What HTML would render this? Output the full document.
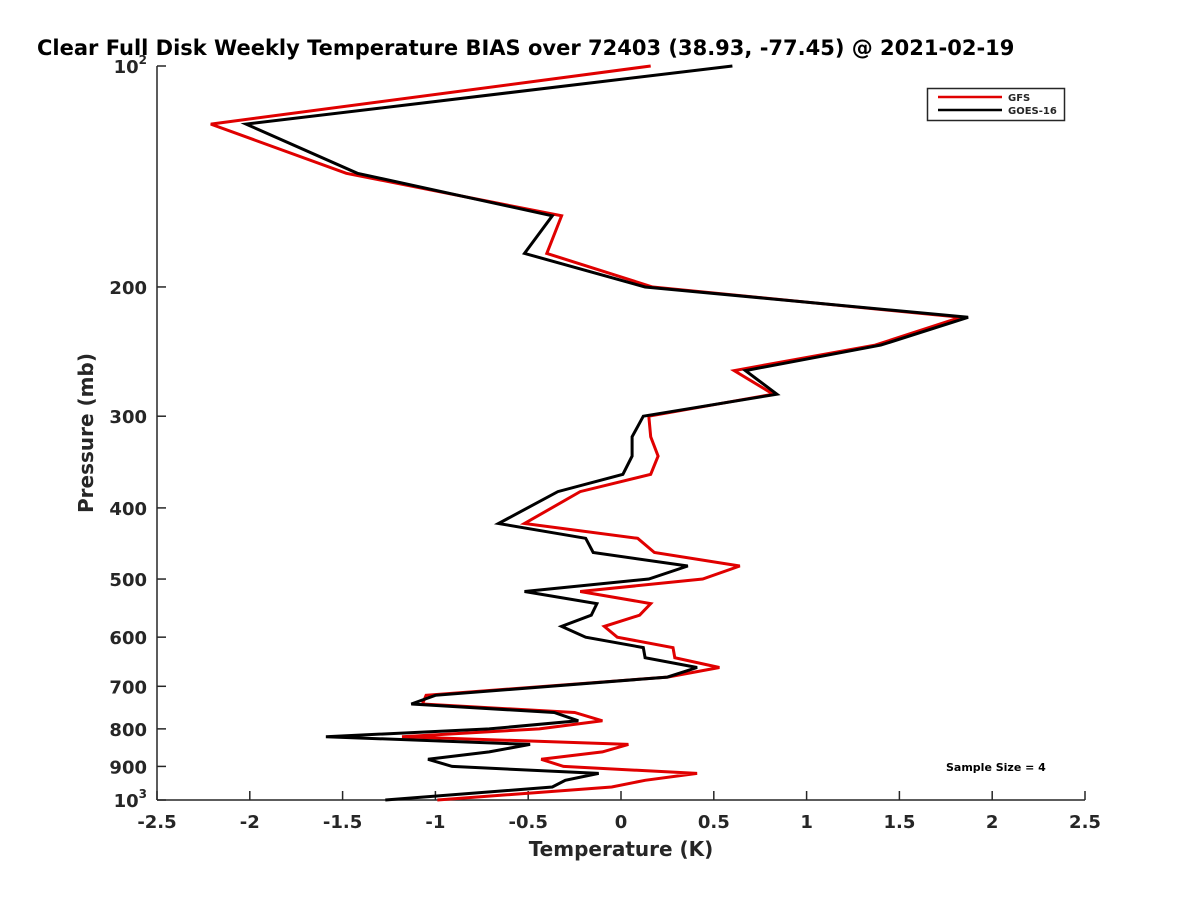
<!DOCTYPE html>
<html><head><meta charset="utf-8"><style>
body{margin:0;background:#fff;}
svg text{font-family:"DejaVu Sans","Liberation Sans",sans-serif;font-weight:bold;fill:#262626;}
</style></head><body>
<svg id="chart" width="1200" height="900" xmlns="http://www.w3.org/2000/svg">
<rect width="1200" height="900" fill="#fff"/>
<text x="37" y="55" font-size="21" style="fill:#000">Clear Full Disk Weekly Temperature BIAS over 72403 (38.93, -77.45) @ 2021-02-19</text>
<g id="axes"></g>
<g id="series"></g>
<text x="621" y="856" font-size="20" text-anchor="middle">Temperature (K)</text>
<text transform="translate(93,433) rotate(-90)" font-size="20" text-anchor="middle">Pressure (mb)</text>
<g>
<rect x="927.5" y="88.5" width="137" height="32" fill="#fff" stroke="#262626" stroke-width="1.5"/>
<line x1="938" y1="97" x2="1002" y2="97" stroke="#e00000" stroke-width="2.5"/>
<text x="1008" y="101" font-size="10">GFS</text>
<line x1="938" y1="110" x2="1002" y2="110" stroke="#000" stroke-width="2.5"/>
<text x="1008" y="114" font-size="10">GOES-16</text>
</g>
<text x="946" y="771" font-size="11" style="fill:#000">Sample Size = 4</text>
</svg>
<script>
const pressureLevels = [100,120,140,160,180,200,220,240,260,280,300,320,340,360,380,420,440,460,480,500,520,540,560,580,600,620,640,660,680,720,740,760,780,800,820,840,860,880,900,920,940,960,1000];
const gfsBias = [0.16,-2.21,-1.48,-0.32,-0.40,0.17,1.83,1.37,0.61,0.82,0.15,0.16,0.20,0.16,-0.22,-0.52,0.09,0.18,0.64,0.44,-0.22,0.16,0.10,-0.09,-0.02,0.28,0.29,0.53,0.25,-1.05,-1.07,-0.25,-0.10,-0.44,-1.18,0.04,-0.10,-0.43,-0.31,0.41,0.13,-0.05,-0.99];
const goesBias = [0.60,-2.02,-1.42,-0.37,-0.52,0.13,1.87,1.40,0.67,0.84,0.12,0.06,0.06,0.01,-0.34,-0.66,-0.19,-0.15,0.36,0.15,-0.52,-0.13,-0.16,-0.32,-0.19,0.12,0.13,0.41,0.25,-1.00,-1.13,-0.36,-0.23,-0.71,-1.59,-0.49,-0.71,-1.04,-0.91,-0.12,-0.30,-0.37,-1.27];
const xTicks = [-2.5,-2,-1.5,-1,-0.5,0,0.5,1,1.5,2,2.5];
const yTicks = [100,200,300,400,500,600,700,800,900,1000];

const NS = "http://www.w3.org/2000/svg";
const X0 = 157, X1 = 1085, Y0 = 66, Y1 = 800;
function xScale(v){ return X0 + (v + 2.5) / 5 * (X1 - X0); }
function yScale(p){ return Y0 + (Math.log10(p) - 2) * (Y1 - Y0); }
function mk(tag, attrs, parent){
  const e = document.createElementNS(NS, tag);
  for (const k in attrs) e.setAttribute(k, attrs[k]);
  parent.appendChild(e);
  return e;
}
const axes = document.getElementById('axes');
const xAxis = mk('line', {x1:X0, y1:Y1, x2:X1, y2:Y1, stroke:'#262626', 'stroke-width':1.5}, axes);


const yAxis = mk('line', {x1:X0, y1:Y0, x2:X0, y2:Y1, stroke:'#262626', 'stroke-width':1.5}, axes);


xTicks.forEach(v => {
  const x = xScale(v);
  const t = mk('line', {x1:x, y1:Y1, x2:x, y2:Y1-9, stroke:'#262626', 'stroke-width':1.5}, axes);
  
  
  const l = mk('text', {x:x, y:Y1+28, 'font-size':18, 'text-anchor':'middle'}, axes);
  l.textContent = String(v);
  
  
});
yTicks.forEach(p => {
  const y = yScale(p);
  const t = mk('line', {x1:X0, y1:y, x2:X0+9, y2:y, stroke:'#262626', 'stroke-width':1.5}, axes);
  
  
  const l = mk('text', {x:X0-10, y:y+7, 'font-size':18, 'text-anchor':'end'}, axes);
  
  
  if (p === 100 || p === 1000) {
    l.textContent = '10';
    const s = mk('tspan', {dy:-9, 'font-size':12}, l);
    s.textContent = p === 100 ? '2' : '3';
  } else {
    l.textContent = String(p);
  }
});
const series = document.getElementById('series');
function drawLine(vals, color, name){
  const pts = vals.map((v, i) => xScale(v).toFixed(1) + ',' + yScale(pressureLevels[i]).toFixed(1)).join(' ');
  const pl = mk('polyline', {points:pts, fill:'none', stroke:color, 'stroke-width':3, 'stroke-linejoin':'miter'}, series);
  
  
}
drawLine(gfsBias, '#e00000', 'gfs-bias-line');
drawLine(goesBias, '#000000', 'goes16-bias-line');
</script>
</body></html>
